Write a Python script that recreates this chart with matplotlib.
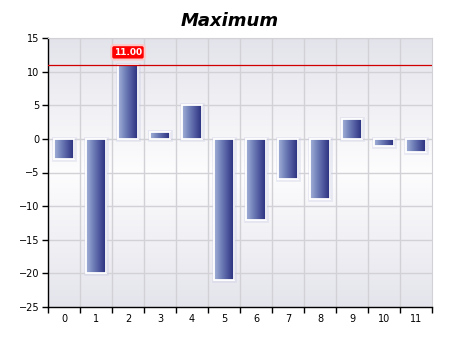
import numpy as np
import matplotlib
matplotlib.use("Agg")
import matplotlib.pyplot as plt
from matplotlib.colors import LinearSegmentedColormap

# datos
categorias = list(range(12))
valores = [-3, -20, 11, 1, 5, -21, -12, -6, -9, 3, -1, -2]
etiquetas_x = [str(c) for c in categorias]
maximo = max(valores)

fig = plt.figure(figsize=(4.6, 3.45), dpi=100)
ax = fig.add_axes([0.1043, 0.110, 0.8347, 0.780])

# fondo con degradado vertical
fondo = LinearSegmentedColormap.from_list(
    "fondo", [(0.0, "#e4e4ec"), (0.5, "#fdfdfe"), (1.0, "#e3e3eb")])
grad_v = np.linspace(0, 1, 256).reshape(-1, 1)
ax.imshow(grad_v, cmap=fondo, extent=[-0.5, 11.5, -25, 15], origin="lower",
          aspect="auto", zorder=0)

# rejilla
for yv in range(-25, 16, 5):
    ax.axhline(yv, color="#d2d2d6", lw=1, zorder=1)
for xv in np.arange(0.5, 11.5, 1):
    ax.axvline(xv, color="#d2d2d6", lw=1, zorder=1)

ancho = 0.63
x = np.arange(len(valores))

# sombra suave de las barras
ax.bar(x, valores, ancho, color="white", edgecolor=(0.80, 0.80, 0.90, 0.35),
       lw=3.5, zorder=2)

# barras con degradado horizontal
barras_cmap = LinearSegmentedColormap.from_list(
    "barras", [(0.0, "#a2b2d8"), (0.4, "#6a78b4"), (1.0, "#24287a")])
grad_h = np.linspace(0, 1, 256).reshape(1, -1)
barras = ax.bar(x, valores, ancho, color="none", edgecolor="white", lw=1.3, zorder=4)
for b in barras:
    x0 = b.get_x()
    x1 = x0 + b.get_width()
    y0 = min(0, b.get_height())
    y1 = max(0, b.get_height())
    im = ax.imshow(grad_h, cmap=barras_cmap, extent=[x0, x1, y0, y1],
                   aspect="auto", zorder=3)
    im.set_clip_path(b)

# linea del maximo y etiqueta
ax.axhline(maximo, color="#d00000", lw=0.9, zorder=5)
imax = valores.index(maximo)
ax.annotate("%.2f" % maximo, (imax, maximo), xytext=(0, 9), textcoords="offset points",
            ha="center", va="center", color="white", fontsize=6.5, fontweight="bold",
            bbox=dict(boxstyle="round,pad=0.3,rounding_size=0.3", fc="#ff0000",
                      ec="#ffc8c8", lw=1.5),
            zorder=6)

ax.set_xlim(-0.5, 11.5)
ax.set_ylim(-25, 15)

ax.set_yticks(range(-25, 16, 5))
ax.set_xticks(np.arange(-0.5, 12, 1))
ax.set_xticklabels([])
ax.set_xticks(x, minor=True)
ax.set_xticklabels(etiquetas_x, minor=True)
ax.tick_params(axis="x", which="minor", length=0, labelsize=7, pad=5)
ax.tick_params(axis="x", which="major", length=4, width=1, direction="out")
ax.tick_params(axis="y", length=4, width=1, labelsize=7, direction="out", pad=2)

for s in ["top", "right"]:
    ax.spines[s].set_color("#d2d2d6")
for s in ["left", "bottom"]:
    ax.spines[s].set_color("black")
    ax.spines[s].set_linewidth(1)

fig.text(0.5, 0.94, "Maximum", ha="center", va="center", fontsize=13,
         fontweight="bold", fontstyle="italic")

plt.savefig("out.png", dpi=100)
